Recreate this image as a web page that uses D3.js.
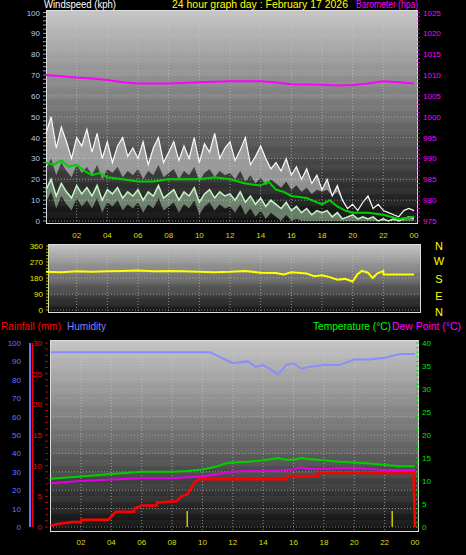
<!DOCTYPE html>
<html><head><meta charset="utf-8">
<script src="https://cdn.jsdelivr.net/npm/d3@7"></script>
<style>body{margin:0;background:#000}svg{display:block}</style></head>
<body><svg id="c" width="466" height="555"></svg>
<script>
// ---------- data ----------
const hourTicks = ["02","04","06","08","10","12","14","16","18","20","22","00"];
const gust = [42,50,35,45,38,30,40,36,44, 33,42,30,38,28,36,40,31,35, 30,38,27,35,40,28,33,38,29,
  36,30,40,28,37,33,42,30,35, 38,29,34,40,27,31,36,30,25, 28,24,30,22,26,20,25,18,22,
  15,20,12,17,10,6,8,5,9, 12,6,8,5,4,3,2,5,6,5];
const avgWind = [15,20,12,18,14,11,17,13,16, 12,17,10,15,13,16,11,14,12, 15,10,14,12,17,11,13,15,10,
  14,12,16,9,13,15,11,14,12, 13,10,14,9,12,8,11,7,10, 8,6,9,5,7,4,6,3,5,
  4,5,2,4,1,2,3,1,2, 1,2,0,1,0,1,0,1,2,1];
const smoothHours = [0,0.5,1,1.5,2,2.5,3,3.5,4,5,6,7,8,9,10,11,12,13,14,14.5,15,15.5,16,17,18,18.5,19,19.5,20,21,22,23,24];
const smoothWind  = [28,27,29,26,27,24,22,23,21,20,19,19,20,20,20,21,20,18,17,19,15,14,12,11,8,10,7,5,4,4,3,1,2];
const baroHours = [0,1,2,3,4,5,6,8,10,12,14,15,16,18,19,20,21,22,23,24];
const baro      = [1010,1009.7,1009.4,1009.2,1008.8,1008.3,1008,1008,1008.3,1008.5,1008.5,1008.2,1007.8,1007.7,1007.5,1007.6,1008,1008.5,1008.3,1008];
const dirHours = [0,1,2,3,4,5,6,7,8,9,10,11,12,13,14,15,15.5,16,17,17.5,18,18.5,19,19.5,20,20.3,20.6,21,21.3,21.6,22,22.01,24];
const windDir  = [215,212,218,215,218,220,222,218,220,218,215,212,215,220,210,208,200,212,205,190,195,185,170,175,160,200,220,210,180,205,220,200,200];
const humHours = [0,10.5,11,12,13,13.5,14,15,15.5,16,16.5,17,18,19,20,21,22,23,24];
const humidity = [95,95,93,89,90,87,88,83,88,89,86,87,88,88,91,91,92,94,94];
const tHours = [0,2,4,6,8,9,10,11,11.5,12,13,14,15,15.5,16,16.5,17,18,19,20,21,22,23,24];
const temp   = [10.5,11,11.5,12,12,12.2,12.5,13.2,13.8,14,14.2,14.5,15,14.6,14.6,15,14.8,14.5,14.2,14,13.8,13.5,13.2,13.2];
const dTHours = [0,2,4,6,8,10,11,12,13,14,15,16,16.5,17,18,19,20,22,23,24];
const dew    = [9.5,10,10.3,10.6,10.6,11,11.5,12,12.2,12.2,12.3,12.5,13,12.6,12.6,12.8,12.8,12.4,12.4,12.4];
const rainHours = [0,0.5,1.5,2,2.01,3.8,4.3,5.5,5.51,6,7,7.01,8.3,8.6,9,9.5,9.8,15.5,15.51,17.6,17.61,23.9,24];
const rain      = [0.2,0.5,0.8,0.8,1.2,1.2,2.5,2.5,3,3.5,3.5,4,4.2,5,5.3,7.3,7.8,7.8,8.3,8.3,8.8,8.8,0];
const rainRateHours = [9, 22.5];
const rainRate = [2.6, 2.6];

const svg = d3.select("#c");
const F = "Liberation Sans, Arial, sans-serif";
const defs = svg.append("defs");
const g = defs.append("linearGradient").attr("id","bg").attr("x1",0).attr("y1",0).attr("x2",0).attr("y2",1);
g.append("stop").attr("offset","0").attr("stop-color","#c6c6c6");
g.append("stop").attr("offset","0.5").attr("stop-color","#6e6e6e");
g.append("stop").attr("offset","1").attr("stop-color","#0c0c0c");

function panel(x0,x1,y0,y1,yGrid,xs){
  svg.append("rect").attr("x",x0).attr("y",y0).attr("width",x1-x0).attr("height",y1-y0).attr("fill","url(#bg)");
  const n=Math.round((y1-y0)/6);
  for(let i=0;i<n;i+=2) svg.append("rect").attr("x",x0).attr("y",y0+i*(y1-y0)/n).attr("width",x1-x0).attr("height",(y1-y0)/n)
    .attr("fill","#fff").attr("opacity",0.04);
  yGrid.forEach(y=>svg.append("line").attr("x1",x0).attr("x2",x1).attr("y1",y).attr("y2",y)
     .attr("stroke","#bbb").attr("stroke-dasharray","1,2").attr("opacity",0.7));
  d3.range(2,24,2).forEach(h=>svg.append("line").attr("x1",xs(h)).attr("x2",xs(h)).attr("y1",y0).attr("y2",y1)
     .attr("stroke","#ccc").attr("stroke-dasharray","1,2").attr("opacity",0.6));
  svg.append("rect").attr("x",x0+0.5).attr("y",y0+0.5).attr("width",x1-x0-1).attr("height",y1-y0-1)
     .attr("fill","none").attr("stroke","#ddd").attr("stroke-width",1);
}
function leftAxis(scale,x,ticks,color,minor){
  const a=svg.append("g").attr("transform",`translate(${x},0)`);
  minor.forEach(v=>a.append("line").attr("x1",1).attr("x2",4).attr("y1",scale(v)).attr("y2",scale(v)).attr("stroke",color).attr("opacity",0.8));
  ticks.forEach(v=>a.append("text").attr("x",-2).attr("y",scale(v)+3).attr("text-anchor","end")
     .attr("fill",color).attr("font-family",F).attr("font-size",8).text(v));
}
function rightAxis(scale,x,ticks,color,minor){
  const a=svg.append("g").attr("transform",`translate(${x},0)`);
  minor.forEach(v=>a.append("line").attr("x1",-3).attr("x2",0).attr("y1",scale(v)).attr("y2",scale(v)).attr("stroke",color).attr("opacity",0.8));
  ticks.forEach(v=>a.append("text").attr("x",3).attr("y",scale(v)+3).attr("fill",color).attr("font-family",F).attr("font-size",8).text(v));
}
function text(x,y,t,c,anchor,size,len){const e=svg.append("text").attr("x",x).attr("y",y).attr("fill",c).attr("font-family",F)
  .attr("font-size",size||11).attr("text-anchor",anchor||"start").text(t);
  if(len) e.attr("textLength",len).attr("lengthAdjust","spacingAndGlyphs");}
function hourLabels(xs,y){hourTicks.forEach((t,i)=>text(xs((i+1)*2),y,t,"#dede00","middle",8));}

// ---------- top panel ----------
const xT = d3.scaleLinear().domain([0,24]).range([46,414]);
const yW = d3.scaleLinear().domain([0,100]).range([221,12.5]);
const yB = d3.scaleLinear().domain([975,1025]).range([221,12.5]);
panel(46,418,10,224,d3.range(0,101,10).map(yW),xT);
leftAxis(yW,42,d3.range(0,101,10),"#b4ccf0",d3.range(0,101,2));
rightAxis(yB,420,d3.range(975,1026,5),"#ff00ff",d3.range(975,1026,1));
text(44,8,"Windspeed (kph)","#fff","start",10,72);
text(172,8,"24 hour graph day : February 17 2026","#ffff00","start",10,176);
text(356,8,"Barometer (hpa)","#ff00ff","start",10,62);
const gx = i=>i/3;
svg.append("path").datum(gust).attr("fill","#f0f0f0").attr("opacity",0.5)
  .attr("d",d3.area().x((d,i)=>xT(gx(i))).y0((d,i)=>yW(Math.min(d,avgWind[i]+10))).y1(d=>yW(d)));
svg.append("path").datum(gust).attr("fill","none").attr("stroke","#fafafa").attr("stroke-width",1.2)
  .attr("d",d3.line().x((d,i)=>xT(gx(i))).y(d=>yW(d)));
svg.append("path").datum(avgWind).attr("fill","#c8f5c8").attr("opacity",0.45)
  .attr("d",d3.area().x((d,i)=>xT(gx(i))).y0(d=>yW(Math.max(0,d-6))).y1(d=>yW(d)));
svg.append("path").datum(avgWind).attr("fill","none").attr("stroke","#c8f5c8").attr("stroke-width",1.5)
  .attr("d",d3.line().x((d,i)=>xT(gx(i))).y(d=>yW(d)));
svg.append("path").datum(smoothWind).attr("fill","none").attr("stroke","#00d000").attr("stroke-width",2)
  .attr("d",d3.line().x((d,i)=>xT(smoothHours[i])).y(d=>yW(d)));
svg.append("path").datum(baro).attr("fill","none").attr("stroke","#ff00ff").attr("stroke-width",2)
  .attr("d",d3.line().x((d,i)=>xT(baroHours[i])).y(d=>yB(d)));
hourLabels(xT,238);

// ---------- middle panel ----------
const yD = d3.scaleLinear().domain([0,360]).range([310,246]);
panel(48,421,244,313,[0,90,180,270,360].map(yD),xT);
leftAxis(yD,45,[0,90,180,270,360],"#e6e600",d3.range(0,361,18));
svg.append("path").datum(windDir).attr("fill","none").attr("stroke","#ffff00").attr("stroke-width",2)
  .attr("d",d3.line().x((d,i)=>xT(dirHours[i])).y(d=>yD(d)));
["N","W","S","E","N"].forEach((t,i)=>text(439,[250,265,283,300,316][i],t,"#ffff00","middle",11));

// ---------- bottom panel ----------
const xB = d3.scaleLinear().domain([0,24]).range([50.6,415]);
const yH = d3.scaleLinear().domain([0,100]).range([527,343]);
const yR = d3.scaleLinear().domain([0,30]).range([527,343]);
const yTmp = d3.scaleLinear().domain([0,40]).range([527,343]);
panel(50,419,340,532,d3.range(0,101,10).map(yH),xB);
leftAxis(yH,23,d3.range(0,101,10),"#7070ff",[]);
svg.append("line").attr("x1",30).attr("x2",30).attr("y1",343).attr("y2",527).attr("stroke","#7070ff").attr("stroke-width",2);
svg.append("line").attr("x1",32.5).attr("x2",32.5).attr("y1",343).attr("y2",527).attr("stroke","#ff0000").attr("stroke-width",1.5);
leftAxis(yR,44,d3.range(0,31,5),"#ff0000",d3.range(0,31,1));
rightAxis(yTmp,419,d3.range(0,41,5),"#00e000",d3.range(0,41,1));
text(1,330,"Rainfall (mm)","#ff0000","start",10.5,60);
text(67,330,"Humidity","#8080ff","start",10.5,39);
text(313,330,"Temperature (°C)","#00ff00","start",10.5,78);
text(392,330,"Dew Point (°C)","#ff00ff","start",10.5,69);
svg.append("path").datum(humidity).attr("fill","none").attr("stroke","#8c8cff").attr("stroke-width",2)
  .attr("d",d3.line().x((d,i)=>xB(humHours[i])).y(d=>yH(d)));
svg.append("path").datum(temp).attr("fill","none").attr("stroke","#00d000").attr("stroke-width",2)
  .attr("d",d3.line().x((d,i)=>xB(tHours[i])).y(d=>yTmp(d)));
svg.append("path").datum(dew).attr("fill","none").attr("stroke","#e000e0").attr("stroke-width",2)
  .attr("d",d3.line().x((d,i)=>xB(dTHours[i])).y(d=>yTmp(d)));
svg.append("path").datum(rain).attr("fill","none").attr("stroke","#ff0000").attr("stroke-width",2.5)
  .attr("d",d3.line().x((d,i)=>xB(rainHours[i])).y(d=>yR(d)));
rainRate.forEach((v,i)=>svg.append("line").attr("x1",xB(rainRateHours[i])).attr("x2",xB(rainRateHours[i]))
  .attr("y1",yR(0)).attr("y2",yR(v)).attr("stroke","#c8c800").attr("stroke-width",1.5));
hourLabels(xB,545);
</script></body></html>
